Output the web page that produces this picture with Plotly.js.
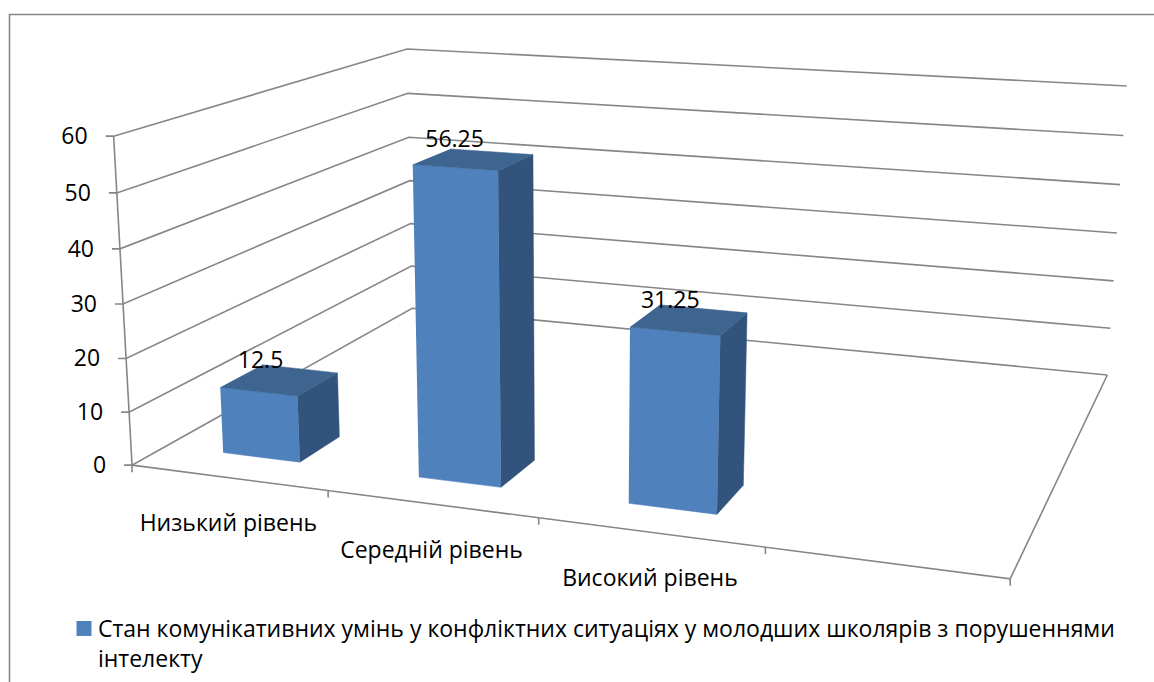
<!DOCTYPE html>
<html><head><meta charset="utf-8"><script src="https://cdn.plot.ly/plotly-3.0.1.min.js"></script>
<style>html,body{margin:0;padding:0;background:#fff}</style></head><body><div id="c" style="width:1154px;height:682px"></div>
<script>
const categories=["Низький рівень","Середній рівень","Високий рівень",""];
const values=[12.5,56.25,31.25,null];
const yTicks=[0,10,20,30,40,50,60];
const seriesName="Стан комунікативних умінь у конфліктних ситуаціях у молодших школярів з порушеннями<br>інтелекту";
const calib=[[0,0,0,133,465],[1,0,0,329,491],[2,0,0,539,518],[3,0,0,765,547],[4,0,0,1010,579],
[0,60,0,112,136],[0,50,0,116,193],[0,40,0,119,249],[0,30,0,123,304],[0,20,0,127,358],[0,10,0,130,412],
[0,60,1,408,49],[0,50,1,409,94],[0,40,1,410,137],[0,0,1,409,308],
[4,60,1,1126,86],[4,50,1,1123,135.5],[4,40,1,1120,184],[4,30,1,1117,233],[4,20,1,1114,281],[4,10,1,1111,328.5],[4,0,1,1107.5,375]];
function solve(A,b){const n=b.length;const M=A.map((r,i)=>[...r,b[i]]);
 for(let i=0;i<n;i++){let p=i;for(let k=i+1;k<n;k++)if(Math.abs(M[k][i])>Math.abs(M[p][i]))p=k;[M[i],M[p]]=[M[p],M[i]];
  for(let k=0;k<n;k++){if(k==i)continue;const f=M[k][i]/M[i][i];for(let j=i;j<=n;j++)M[k][j]-=f*M[i][j];}}
 return M.map((r,i)=>r[n]/r[i]);}
const N=11,ATA=Array.from({length:N},()=>Array(N).fill(0)),ATb=Array(N).fill(0);
for(const [a,b0,c,px,py] of calib){const X=a/4,Y=b0/60,Z=c,x=px/1000,y=py/1000;
 for(const [r,t] of [[[X,Y,Z,1,0,0,0,0,-x*X,-x*Y,-x*Z],x],[[0,0,0,0,X,Y,Z,1,-y*X,-y*Y,-y*Z],y]]){
  for(let i=0;i<N;i++){ATb[i]+=r[i]*t;for(let j=0;j<N;j++)ATA[i][j]+=r[i]*r[j];}}}
const h=solve(ATA,ATb);
function proj(u,v,w){const X=u/4,Y=v/60,d=h[8]*X+h[9]*Y+h[10]*w+1;
 return [1000*(h[0]*X+h[1]*Y+h[2]*w+h[3])/d,1000*(h[4]*X+h[5]*Y+h[6]*w+h[7])/d];}
const grid='#868686',traces=[];
function line(pts,w){traces.push({type:'scatter',mode:'lines',x:pts.map(p=>p[0]),y:pts.map(p=>p[1]),line:{color:grid,width:w||1.6},hoverinfo:'skip',showlegend:false});}
for(const t of yTicks){const a=proj(0,t,0);line([[a[0]-8,a[1]],a,proj(0,t,1),proj(4,t,1)]);}
line([proj(0,0,0),proj(0,60,0)]);
line([proj(0,0,0),proj(4,0,0),proj(4,0,1)]);
for(let i=0;i<=4;i++){const a=proj(i,0,0);line([a,[a[0],a[1]+7]]);}
const U0=.3,U1=.7,W0=.1,W1=.232;
function face(pts,col){traces.push({type:'scatter',mode:'lines',fill:'toself',fillcolor:col,x:pts.map(p=>p[0]),y:pts.map(p=>p[1]),line:{color:col,width:.5},hoverinfo:'skip',showlegend:false});}
values.forEach((v,i)=>{if(v==null)return;const a=i+U0,b=i+U1;
 face([proj(a,0,W0),proj(b,0,W0),proj(b,v,W0),proj(a,v,W0)],'#4F81BD');
 face([proj(b,0,W0),proj(b,0,W1),proj(b,v,W1),proj(b,v,W0)],'#31537C');
 face([proj(a,v,W0),proj(b,v,W0),proj(b,v,W1),proj(a,v,W1)],'#3D6590');});
traces.push({type:'scatter',mode:'markers',x:[-50],y:[-50],name:seriesName,marker:{symbol:'square',size:15,color:'#4F81BD'},hoverinfo:'skip'});
const F={family:'"Open Sans", sans-serif',size:23,color:'#000'};
traces.push({type:'scatter',mode:'text',x:yTicks.map(t=>proj(0,t,0)[0]-26),y:yTicks.map(t=>proj(0,t,0)[1]+2),text:yTicks.map(String),textposition:'middle left',textfont:F,showlegend:false,hoverinfo:'skip'});
const ci=categories.map((c,i)=>proj(i+.5,0,0));
traces.push({type:'scatter',mode:'text',x:ci.map(p=>p[0]),y:ci.map(p=>p[1]+48),text:categories,textposition:'middle center',textfont:F,showlegend:false,hoverinfo:'skip'});
const li=values.map((v,i)=>v==null?[null,null]:proj(i+.5,v,(W0+W1)/2));
traces.push({type:'scatter',mode:'text',x:li.map(p=>p[0]==null?null:p[0]-19),y:li.map(p=>p[1]==null?null:p[1]-18),text:values.map(v=>v==null?'':String(v)),textposition:'middle center',textfont:F,showlegend:false,hoverinfo:'skip'});
Plotly.newPlot('c',traces,{width:1154,height:682,margin:{l:0,r:0,t:0,b:0},paper_bgcolor:'#fff',plot_bgcolor:'#fff',
 xaxis:{range:[0,1154],visible:false,fixedrange:true},yaxis:{range:[682,0],visible:false,fixedrange:true},
 shapes:[{type:'path',path:'M 1154 14.5 L 9.5 14.5 L 9.5 682',line:{color:grid,width:1.6},xref:'x',yref:'y'}],
 showlegend:true,legend:{x:58/1154,y:1-607/682,xanchor:'left',yanchor:'top',font:F,bgcolor:'rgba(0,0,0,0)',valign:'top',itemwidth:30,traceorder:'normal'}},{displayModeBar:false,staticPlot:true}).then(()=>{
 document.querySelectorAll('.legendsymbols').forEach(e=>e.setAttribute('transform','translate(6,0)'));
});
</script></body></html>
